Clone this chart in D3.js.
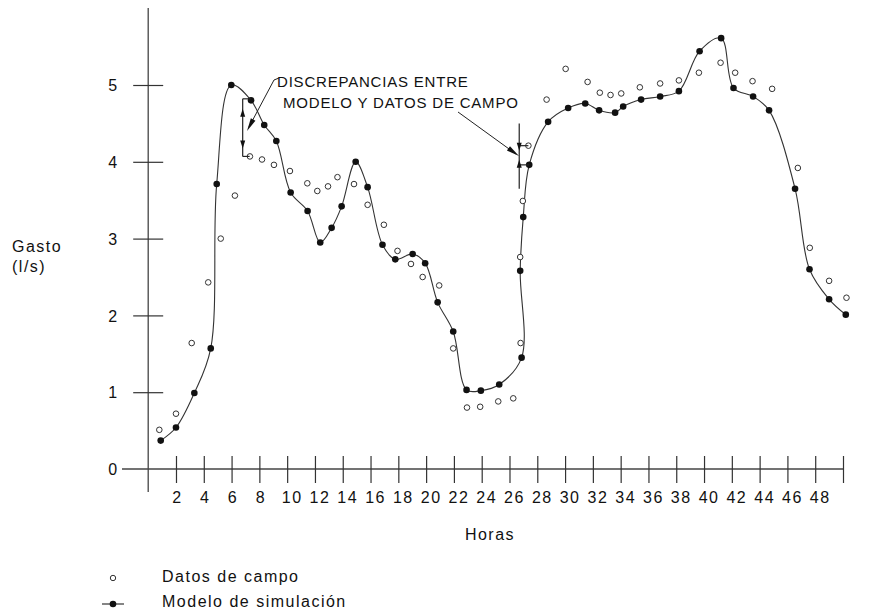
<!DOCTYPE html>
<html>
<head>
<meta charset="utf-8">
<script src="https://d3js.org/d3.v7.min.js"></script>
<style>
body { margin: 0; background: #fff; }
text { font-family: Arial, "Liberation Sans", sans-serif; fill: #111; }
</style>
</head>
<body>
<svg id="chart" width="883" height="612"></svg>
<script>
// Datos de campo (circulos)
var campoHoras = [0.80, 2.00, 3.13, 4.32, 5.22, 6.24, 7.32, 8.19, 9.05, 10.20, 11.45, 12.17, 12.94, 13.62,
  14.81, 15.79, 16.96, 17.94, 18.91, 19.75, 20.94, 21.95, 22.94, 23.89, 25.19, 26.27, 26.80, 26.77,
  26.96, 27.36, 28.67, 30.04, 31.62, 32.50, 33.27, 34.04, 35.38, 36.84, 38.19, 39.63, 41.19, 42.24,
  43.49, 44.90, 46.75, 47.61, 49.00, 50.25];
var campoGasto = [0.51, 0.72, 1.64, 2.43, 3.00, 3.56, 4.07, 4.03, 3.96, 3.88, 3.72, 3.62, 3.68, 3.80,
  3.71, 3.44, 3.18, 2.84, 2.67, 2.50, 2.39, 1.57, 0.80, 0.81, 0.88, 0.92, 1.64, 2.76,
  3.49, 4.21, 4.81, 5.21, 5.04, 4.90, 4.87, 4.89, 4.97, 5.02, 5.06, 5.16, 5.29, 5.16,
  5.05, 4.95, 3.92, 2.88, 2.45, 2.23];

// Modelo de simulacion (puntos y curva)
var modeloHoras = [0.90, 2.00, 3.32, 4.50, 4.93, 5.98, 7.40, 8.35, 9.22, 10.25, 11.47, 12.38, 13.20, 13.92,
  14.93, 15.79, 16.86, 17.78, 19.03, 19.93, 20.83, 21.95, 22.91, 23.94, 25.26, 26.87, 26.77, 26.99,
  27.42, 28.78, 30.22, 31.45, 32.45, 33.60, 34.18, 35.47, 36.84, 38.19, 39.68, 41.23, 42.12, 43.53,
  44.68, 46.55, 47.59, 49.00, 50.20];
var modeloGasto = [0.37, 0.54, 0.99, 1.57, 3.71, 5.00, 4.80, 4.48, 4.27, 3.60, 3.36, 2.95, 3.14, 3.42,
  4.00, 3.67, 2.92, 2.73, 2.80, 2.68, 2.17, 1.79, 1.03, 1.02, 1.10, 1.45, 2.58, 3.28,
  3.96, 4.52, 4.70, 4.76, 4.67, 4.64, 4.72, 4.81, 4.85, 4.92, 5.44, 5.61, 4.96, 4.85,
  4.67, 3.65, 2.60, 2.21, 2.01];

var xTicks = [2, 4, 6, 8, 10, 12, 14, 16, 18, 20, 22, 24, 26, 28, 30, 32, 34, 36, 38, 40, 42, 44, 46, 48, 50];
var xTickLabels = ["2", "4", "6", "8", "10", "12", "14", "16", "18", "20", "22", "24", "26", "28", "30",
  "32", "34", "36", "38", "40", "42", "44", "46", "48", ""];
var yTicks = [0, 1, 2, 3, 4, 5];

var svg = d3.select("#chart");
var x = d3.scaleLinear().domain([0, 50]).range([148.2, 843]);
var y = d3.scaleLinear().domain([0, 5]).range([469, 85]);

// ejes
svg.append("line").attr("x1", x(0)).attr("x2", x(0)).attr("y1", 8).attr("y2", 492)
  .attr("stroke", "#444").attr("stroke-width", 1.3);
svg.append("line").attr("x1", 122).attr("x2", x(50)).attr("y1", y(0)).attr("y2", y(0))
  .attr("stroke", "#444").attr("stroke-width", 1.3);

var xAxis = d3.axisBottom(x).tickValues(xTicks).tickSize(14)
  .tickFormat(function (d, i) { return xTickLabels[i]; });
var gx = svg.append("g").attr("transform", "translate(0," + y(0) + ")").call(xAxis);
gx.select(".domain").remove();
gx.selectAll(".tick line").attr("y1", -13).attr("stroke", "#333").attr("stroke-width", 1.2);
gx.selectAll(".tick text")
  .attr("y", 34).attr("dy", 0)
  .attr("dx", function (d) { return d < 10 ? 1 : 4.5; })
  .style("font-size", "16px").style("letter-spacing", "1.5px").style("fill", "#111")
  .attr("font-family", null);

var yAxis = d3.axisLeft(y).tickValues(yTicks).tickSize(15).tickFormat(d3.format("d"));
var gy = svg.append("g").attr("transform", "translate(" + x(0) + ",0)").call(yAxis);
gy.select(".domain").remove();
gy.selectAll(".tick line").attr("x1", 15).attr("stroke", "#333").attr("stroke-width", 1.2)
  .filter(function (d) { return d === 0; }).remove();
gy.selectAll(".tick text")
  .attr("x", -31).attr("dy", "0.36em")
  .style("font-size", "16px").style("fill", "#111")
  .attr("font-family", null);

// titulos
svg.append("text").attr("x", 12).attr("y", 252).style("font-size", "16px")
  .style("letter-spacing", "1.5px").text("Gasto");
svg.append("text").attr("x", 12).attr("y", 272).style("font-size", "16px")
  .style("letter-spacing", "1.5px").text("(l/s)");
svg.append("text").attr("x", 490).attr("y", 540).attr("text-anchor", "middle")
  .style("font-size", "16px").style("letter-spacing", "1.5px").text("Horas");

// curva del modelo
var modelo = modeloHoras.map(function (h, i) { return [h, modeloGasto[i]]; });
var campo = campoHoras.map(function (h, i) { return [h, campoGasto[i]]; });

var line = d3.line()
  .x(function (d) { return x(d[0]); })
  .y(function (d) { return y(d[1]); })
  .curve(d3.curveCatmullRom.alpha(0.5));

svg.append("path").datum(modelo).attr("d", line)
  .attr("fill", "none").attr("stroke", "#333").attr("stroke-width", 1.1);

svg.selectAll("circle.modelo").data(modelo).enter().append("circle")
  .attr("class", "modelo")
  .attr("cx", function (d) { return x(d[0]); })
  .attr("cy", function (d) { return y(d[1]); })
  .attr("r", 3.3).attr("fill", "#111");

svg.selectAll("circle.campo").data(campo).enter().append("circle")
  .attr("class", "campo")
  .attr("cx", function (d) { return x(d[0]); })
  .attr("cy", function (d) { return y(d[1]); })
  .attr("r", 2.8).attr("fill", "#fff").attr("stroke", "#333").attr("stroke-width", 1);

// anotaciones
function arrowHead(tx, ty, fx, fy, len, half) {
  var a = Math.atan2(ty - fy, tx - fx);
  var bx = tx - len * Math.cos(a), by = ty - len * Math.sin(a);
  var px = -Math.sin(a) * half, py = Math.cos(a) * half;
  svg.append("path")
    .attr("d", "M" + tx + "," + ty + "L" + (bx + px) + "," + (by + py) + "L" + (bx - px) + "," + (by - py) + "Z")
    .attr("fill", "#111");
}

function marker(h, g1, g2, top, bottom, stubs, inward) {
  var xm = x(h);
  svg.append("line").attr("x1", xm).attr("x2", xm).attr("y1", y(top)).attr("y2", y(bottom))
    .attr("stroke", "#222").attr("stroke-width", 1.2);
  stubs.forEach(function (s) {
    svg.append("line").attr("x1", xm).attr("x2", x(s[0])).attr("y1", y(s[1])).attr("y2", y(s[1]))
      .attr("stroke", "#222").attr("stroke-width", 1.2);
  });
  if (inward) {
    arrowHead(xm, y(g1) + 5, xm, y(g1) - 8, 8, 2.5);
    arrowHead(xm, y(g2) - 5, xm, y(g2) + 8, 8, 2.5);
  } else {
    arrowHead(xm, y(g1) + 10, xm, y(g1) + 18, 8, 2.5);
    arrowHead(xm, y(g2) - 8, xm, y(g2) - 16, 8, 2.5);
  }
}

marker(6.8, 4.82, 4.07, 4.82, 4.07, [[7.4, 4.82], [7.3, 4.07]], false);
marker(26.7, 4.21, 3.96, 4.50, 3.65, [[27.36, 4.21], [27.42, 3.96]], true);

svg.append("text").attr("x", 277).attr("y", 87)
  .style("font-size", "15px").style("letter-spacing", "0.8px").text("DISCREPANCIAS ENTRE");
svg.append("text").attr("x", 283).attr("y", 108)
  .style("font-size", "15px").style("letter-spacing", "0.8px").text("MODELO Y DATOS DE CAMPO");

svg.append("path").attr("d", "M279,78L274,80L249,127")
  .attr("fill", "none").attr("stroke", "#222").attr("stroke-width", 1);
arrowHead(247, 131, 262, 103, 13, 2.6);
svg.append("path").attr("d", "M458,112L516,154")
  .attr("fill", "none").attr("stroke", "#222").attr("stroke-width", 1);
arrowHead(519, 156, 458, 112, 13, 2.6);

// leyenda
svg.append("circle").attr("cx", 113).attr("cy", 578).attr("r", 2.7)
  .attr("fill", "#fff").attr("stroke", "#333").attr("stroke-width", 1);
svg.append("text").attr("x", 162).attr("y", 582).style("font-size", "16px")
  .style("letter-spacing", "1.5px").text("Datos de campo");
svg.append("line").attr("x1", 102).attr("x2", 124).attr("y1", 604).attr("y2", 604)
  .attr("stroke", "#333").attr("stroke-width", 1.2);
svg.append("circle").attr("cx", 113).attr("cy", 604).attr("r", 3.3).attr("fill", "#111");
svg.append("text").attr("x", 162).attr("y", 606.5).style("font-size", "16px")
  .style("letter-spacing", "1.5px").text("Modelo de simulación");
</script>
</body>
</html>
